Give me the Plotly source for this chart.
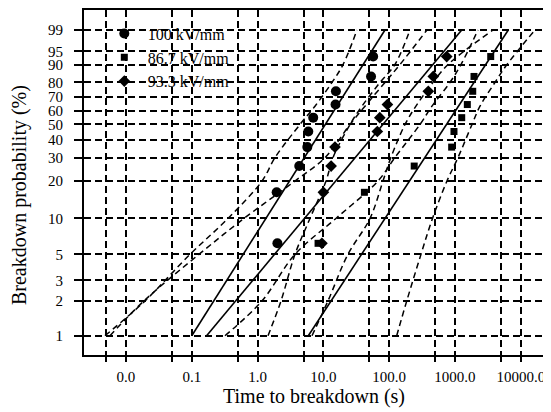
import numpy as np
import plotly.graph_objects as go

# ---------------- data ----------------
# plotting positions (breakdown probability, %) for the 10 specimens of each set
rank_prob = [6.2, 16.3, 26.0, 35.6, 45.2, 54.8, 64.4, 74.0, 83.7, 93.3]

# breakdown times (s)
t_100 = [2.0, 1.95, 4.3, 5.7, 5.9, 7.0, 15.3, 15.5, 53, 57]
t_867 = [8.3, 42, 240, 890, 965, 1265, 1540, 1860, 1945, 3490]
t_933 = [9.5, 10.0, 13.1, 15.0, 66, 72, 94, 393, 468, 748]

# fitted Weibull lines: times at 1 % and 99 %
fit_prob = [1, 99]
fit_100 = [0.10, 86.3]
fit_933 = [0.168, 1265]
fit_867 = [5.9, 6457]

# confidence bounds: times at given probabilities
bound_prob = [1, 2, 5, 10, 20, 30, 50, 63.2, 80, 90, 99]
lo_100 = [0.0048, 0.0195, 0.094, 0.355, 1.17, 1.84, 4.41, 7.45, 13.5, 19.9, 32.4]
hi_100 = [1.44, 2.27, 3.70, 6.25, 10.96, 14.0, 25.4, 38.6, 72.5, 122, 207]
lo_933 = [0.0057, 0.0188, 0.1285, 0.621, 3.70, 10.6, 25.4, 42.9, 86.3, 146, 375]
hi_933 = [6.71, 11.75, 23.6, 51.1, 80.5, 106, 174, 255, 463, 783, 3784]
lo_867 = [0.320, 1.167, 3.70, 15.5, 67.6, 122, 294, 447, 839, 1233, 2239]
hi_867 = [130, 185, 304, 455, 755, 1111, 1813, 2399, 4055, 6166, 16440]

y_ticks = [1, 2, 3, 5, 10, 20, 30, 40, 50, 60, 70, 80, 90, 95, 99]
x_ticks = [0.005, 0.01, 0.05, 0.1, 0.5, 1, 5, 10, 50, 100, 500, 1000, 5000, 10000]
x_labels = ["", "0.0", "", "0.1", "", "1.0", "", "10.0", "", "100.0", "", "1000.0", "", "10000.0"]


def weib(p):
    """Weibull probability scale: ln(-ln(1-F))."""
    p = np.asarray(p, dtype=float) / 100.0
    return np.log(-np.log(1.0 - p))


FONT = "Liberation Serif, Times New Roman, serif"
DASH = "6px,4px"

fig = go.Figure()

# confidence bounds (dashed)
for tt in [lo_100, hi_100, lo_933, hi_933, lo_867, hi_867]:
    fig.add_trace(go.Scatter(x=tt, y=weib(bound_prob), mode="lines",
                             line=dict(color="black", width=1.5, dash=DASH, shape="spline"),
                             showlegend=False, hoverinfo="skip"))

# fitted lines (solid)
for tt in [fit_100, fit_933, fit_867]:
    fig.add_trace(go.Scatter(x=tt, y=weib(fit_prob), mode="lines",
                             line=dict(color="black", width=1.6),
                             showlegend=False, hoverinfo="skip"))

# data points
fig.add_trace(go.Scatter(x=t_100, y=weib(rank_prob), mode="markers", name="100 kV/mm",
                         marker=dict(symbol="circle", size=10, color="black")))
fig.add_trace(go.Scatter(x=t_867, y=weib(rank_prob), mode="markers", name="86.7 kV/mm",
                         marker=dict(symbol="square", size=7, color="black")))
fig.add_trace(go.Scatter(x=t_933, y=weib(rank_prob), mode="markers", name="93.3 kV/mm",
                         marker=dict(symbol="diamond", size=9, color="black")))

# the page body has an 8 px margin, so the figure is sized to fit the window
fig.update_layout(
    width=543, height=404,
    margin=dict(l=76, r=0, t=2, b=57),
    paper_bgcolor="white", plot_bgcolor="white",
    font=dict(family=FONT, size=15, color="black"),
    showlegend=True,
    legend=dict(x=0.036, y=0.981, xanchor="left", yanchor="top",
                bgcolor="rgba(0,0,0,0)", font=dict(family=FONT, size=16, color="black"),
                itemwidth=37, tracegroupgap=0),
    xaxis=dict(type="log", range=[-2.638, 4.459],
               tickmode="array", tickvals=x_ticks, ticktext=x_labels,
               ticks="outside", ticklen=5, tickwidth=1.5, tickcolor="black",
               showline=True, linecolor="black", linewidth=2, mirror=True,
               showgrid=True, gridcolor="black", gridwidth=1.5, griddash="7px,4px",
               zeroline=False, tickfont=dict(family=FONT, size=15), ticklabelstandoff=2),
    yaxis=dict(range=[-4.987, 1.927],
               tickmode="array", tickvals=weib(y_ticks), ticktext=[str(v) for v in y_ticks],
               ticks="outside", ticklen=8, tickwidth=1.5, tickcolor="black",
               showline=True, linecolor="black", linewidth=2,
               showgrid=True, gridcolor="black", gridwidth=1.5, griddash="7px,4px",
               zeroline=False, tickfont=dict(family=FONT, size=15), ticklabelstandoff=8),
    annotations=[
        dict(text="Time to breakdown (s)", xref="paper", yref="paper",
             x=0.4925, y=-0.119, xanchor="center", yanchor="middle", showarrow=False,
             font=dict(family=FONT, size=20, color="black")),
        dict(text="Breakdown probability (%)", xref="paper", yref="paper",
             x=-0.137, y=0.4638, xanchor="center", yanchor="middle", showarrow=False,
             textangle=-90, font=dict(family=FONT, size=20, color="black")),
    ],
)

fig.write_html("out.html")
